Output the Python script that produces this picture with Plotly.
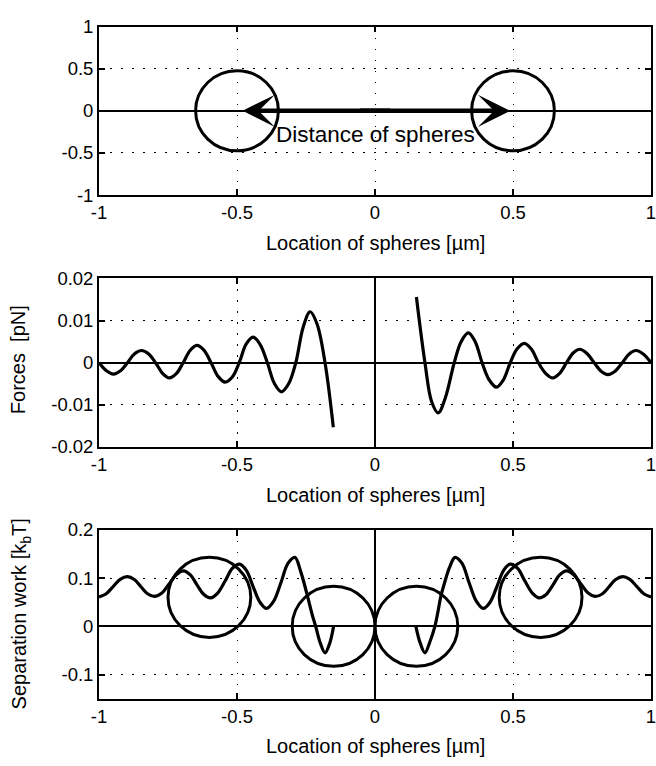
import plotly.graph_objects as go

# ---------------- data ----------------
x_tick_vals = [-1, -0.5, 0, 0.5, 1]
x_tick_text = ["-1", "-0.5", "0", "0.5", "1"]
top_y_vals = [-1, -0.5, 0, 0.5, 1]
top_y_text = ["-1", "-0.5", "0", "0.5", "1"]
force_y_vals = [-0.02, -0.01, 0, 0.01, 0.02]
force_y_text = ["-0.02", "-0.01", "0", "0.01", "0.02"]
work_y_vals = [-0.1, 0, 0.1, 0.2]
work_y_text = ["-0.1", "0", "0.1", "0.2"]

x_title = "Location of spheres [µm]"
force_title = "Forces  [pN]"
work_title = "Separation work [k<sub>b</sub>T]"
arrow_label = "Distance of spheres"

# sphere positions (top panel)
top_sphere_x = [-0.5, 0.5]
top_sphere_y = [0.0, 0.0]
sphere_r_um = 0.15
top_sphere_ry = 0.475
arrow_tips = [-0.48, 0.49]
arrow_starts = [0.06, -0.06]
label_pos = (0.0, -0.28)

# sphere positions (bottom panel)
work_sphere_x = [-0.6, -0.15, 0.15, 0.6]
work_sphere_y = [0.06, 0.0, 0.0, 0.06]
work_sphere_ry = 0.083

# forces, left branch
force_left_x = [-1.0, -0.973, -0.948, -0.922, -0.897, -0.872, -0.846, -0.82, -0.795,
                -0.77, -0.745, -0.72, -0.695, -0.67, -0.646, -0.62, -0.594, -0.568,
                -0.543, -0.517, -0.492, -0.467, -0.442, -0.416, -0.39, -0.364, -0.339,
                -0.313, -0.287, -0.26, -0.235, -0.21, -0.181, -0.151]
force_left_y = [0.0, -0.0019, -0.0027, -0.0019, 0.0, 0.0021, 0.0029, 0.0021, 0.0,
                -0.0025, -0.0036, -0.0026, 0.0, 0.0029, 0.0041, 0.003, 0.0, -0.0033,
                -0.0046, -0.0034, 0.0, 0.0044, 0.0061, 0.0043, 0.0, -0.005, -0.0069,
                -0.005, 0.0, 0.0085, 0.0121, 0.0092, 0.0, -0.0153]
# forces, right branch
force_right_x = [0.15, 0.181, 0.205, 0.229, 0.255, 0.287, 0.312, 0.338, 0.363, 0.388,
                 0.414, 0.44, 0.465, 0.49, 0.515, 0.541, 0.567, 0.592, 0.618, 0.644,
                 0.669, 0.694, 0.718, 0.742, 0.768, 0.794, 0.819, 0.844, 0.87, 0.896,
                 0.921, 0.946, 0.973, 1.0]
force_right_y = [0.0156, 0.0, -0.0092, -0.0119, -0.0083, 0.0, 0.005, 0.0071, 0.005, 0.0,
                 -0.0041, -0.0058, -0.0041, 0.0, 0.0033, 0.0046, 0.0032, 0.0, -0.0025,
                 -0.0036, -0.0025, 0.0, 0.0023, 0.0032, 0.0022, 0.0, -0.002, -0.0028,
                 -0.002, 0.0, 0.0021, 0.0029, 0.002, 0.0]

# separation work, left branch
work_left_x = [-1.0, -0.975, -0.948, -0.922, -0.897, -0.872, -0.848, -0.823, -0.799,
               -0.772, -0.746, -0.72, -0.694, -0.668, -0.645, -0.62, -0.596, -0.57,
               -0.543, -0.517, -0.491, -0.466, -0.442, -0.417, -0.393, -0.367, -0.34,
               -0.315, -0.29, -0.27, -0.252, -0.24, -0.228, -0.215, -0.198, -0.181,
               -0.164, -0.15]
work_left_y = [0.061, 0.067, 0.083, 0.098, 0.103, 0.097, 0.082, 0.067, 0.062,
               0.069, 0.088, 0.107, 0.115, 0.106, 0.086, 0.066, 0.059, 0.069,
               0.094, 0.12, 0.129, 0.116, 0.083, 0.05, 0.037, 0.052, 0.092,
               0.131, 0.143, 0.115, 0.079, 0.052, 0.025, 0.0, -0.035, -0.055,
               -0.035, 0.0]
# separation work, right branch
work_right_x = [0.148, 0.164, 0.181, 0.199, 0.217, 0.228, 0.2385, 0.252, 0.27, 0.29,
                0.315, 0.34, 0.367, 0.392, 0.417, 0.442, 0.466, 0.49, 0.517, 0.543,
                0.57, 0.595, 0.62, 0.645, 0.668, 0.694, 0.72, 0.746, 0.772, 0.797,
                0.823, 0.848, 0.872, 0.898, 0.922, 0.948, 0.975, 1.0]
work_right_y = [0.0, -0.035, -0.055, -0.032, 0.0, 0.03, 0.062, 0.09, 0.122, 0.143,
                0.131, 0.092, 0.052, 0.037, 0.05, 0.083, 0.116, 0.129, 0.12, 0.094,
                0.069, 0.059, 0.066, 0.086, 0.106, 0.115, 0.107, 0.088, 0.069, 0.062,
                0.067, 0.082, 0.097, 0.103, 0.098, 0.083, 0.067, 0.061]

# ---------------- figure ----------------
FONT = "Liberation Sans, Arial, Helvetica, sans-serif"
W, H = 656, 766
ML, MR = 99, 2
TICK_SIZE = 18.5
TITLE_SIZE = 20
curve = dict(color="black", width=3.2)

fig = go.Figure()
fig.add_trace(go.Scatter(x=force_left_x, y=force_left_y, mode="lines", line=curve,
                         line_shape="spline", xaxis="x2", yaxis="y2", hoverinfo="skip"))
fig.add_trace(go.Scatter(x=force_right_x, y=force_right_y, mode="lines", line=curve,
                         line_shape="spline", xaxis="x2", yaxis="y2", hoverinfo="skip"))
fig.add_trace(go.Scatter(x=work_left_x, y=work_left_y, mode="lines", line=curve,
                         line_shape="spline", xaxis="x3", yaxis="y3", hoverinfo="skip"))
fig.add_trace(go.Scatter(x=work_right_x, y=work_right_y, mode="lines", line=curve,
                         line_shape="spline", xaxis="x3", yaxis="y3", hoverinfo="skip"))


def px_to_paper(py):
    return 1 - py / H


common = dict(showline=True, linecolor="black", linewidth=1.8, mirror="ticks",
              ticks="inside", ticklen=6, tickwidth=1.5, tickcolor="black",
              showgrid=True, gridcolor="black", gridwidth=1.2, griddash="1.5px,9.5px",
              zerolinecolor="black", zerolinewidth=2.4, ticklabeloverflow="allow",
              tickfont=dict(family=FONT, size=TICK_SIZE, color="black"), fixedrange=True)


def xaxis(anchor, zeroline):
    return dict(range=[-1, 1], anchor=anchor, tickvals=x_tick_vals, ticktext=x_tick_text,
                zeroline=zeroline, **common)


def yaxis(anchor, rng, vals, text, dom_top, dom_bot):
    return dict(range=rng, anchor=anchor, tickvals=vals, ticktext=text,
                domain=[px_to_paper(dom_bot), px_to_paper(dom_top)],
                zeroline=True, **common)


panels = [(16.0, 189.3), (275.0, 448.3), (533.5, 707.0)]

fig.update_layout(
    width=W, height=H, margin=dict(l=ML, r=MR, t=0, b=0),
    paper_bgcolor="white", plot_bgcolor="white", showlegend=False,
    font=dict(family=FONT, size=TICK_SIZE, color="black"),
    xaxis=xaxis("y", False),
    yaxis=yaxis("x", [-1, 1], top_y_vals, top_y_text, *panels[0]),
    xaxis2=xaxis("y2", True),
    yaxis2=yaxis("x2", [-0.02, 0.02], force_y_vals, force_y_text, *panels[1]),
    xaxis3=xaxis("y3", True),
    yaxis3=yaxis("x3", [-0.15, 0.2], work_y_vals, work_y_text, *panels[2]),
)

shapes = []
for cx, cy in zip(top_sphere_x, top_sphere_y):
    shapes.append(dict(type="circle", xref="x", yref="y", x0=cx - sphere_r_um, x1=cx + sphere_r_um,
                       y0=cy - top_sphere_ry, y1=cy + top_sphere_ry,
                       line=dict(color="black", width=3), layer="above"))
for cx, cy in zip(work_sphere_x, work_sphere_y):
    shapes.append(dict(type="circle", xref="x3", yref="y3", x0=cx - sphere_r_um, x1=cx + sphere_r_um,
                       y0=cy - work_sphere_ry, y1=cy + work_sphere_ry,
                       line=dict(color="black", width=3), layer="above"))
fig.update_layout(shapes=shapes)

annotations = []
for tip, start in zip(arrow_tips, arrow_starts):
    annotations.append(dict(x=tip, y=0, xref="x", yref="y", ax=start, ay=0, axref="x", ayref="y",
                            text="", showarrow=True, arrowhead=3, arrowwidth=4.5,
                            arrowsize=1.2, arrowcolor="black", standoff=0))
annotations += [
    dict(x=label_pos[0], y=label_pos[1], xref="x", yref="y", text=arrow_label, showarrow=False,
         font=dict(family=FONT, size=22.5, color="black"), xanchor="center", yanchor="middle"),
    dict(x=(17.5 - ML) / (W - ML - MR), y=px_to_paper(358), xref="paper", yref="paper",
         text=force_title, textangle=-90, showarrow=False, xanchor="center", yanchor="middle",
         font=dict(family=FONT, size=TITLE_SIZE, color="black")),
    dict(x=(20 - ML) / (W - ML - MR), y=px_to_paper(620), xref="paper", yref="paper",
         text=work_title, textangle=-90, showarrow=False, xanchor="center", yanchor="middle",
         font=dict(family=FONT, size=TITLE_SIZE, color="black")),
]
for (top, bot) in panels:
    annotations.append(dict(x=0.5, y=px_to_paper(bot + 49), xref="paper", yref="paper",
                            text=x_title, showarrow=False, xanchor="center", yanchor="middle",
                            font=dict(family=FONT, size=TITLE_SIZE, color="black")))
fig.update_layout(annotations=annotations)

fig.write_html("out.html")
